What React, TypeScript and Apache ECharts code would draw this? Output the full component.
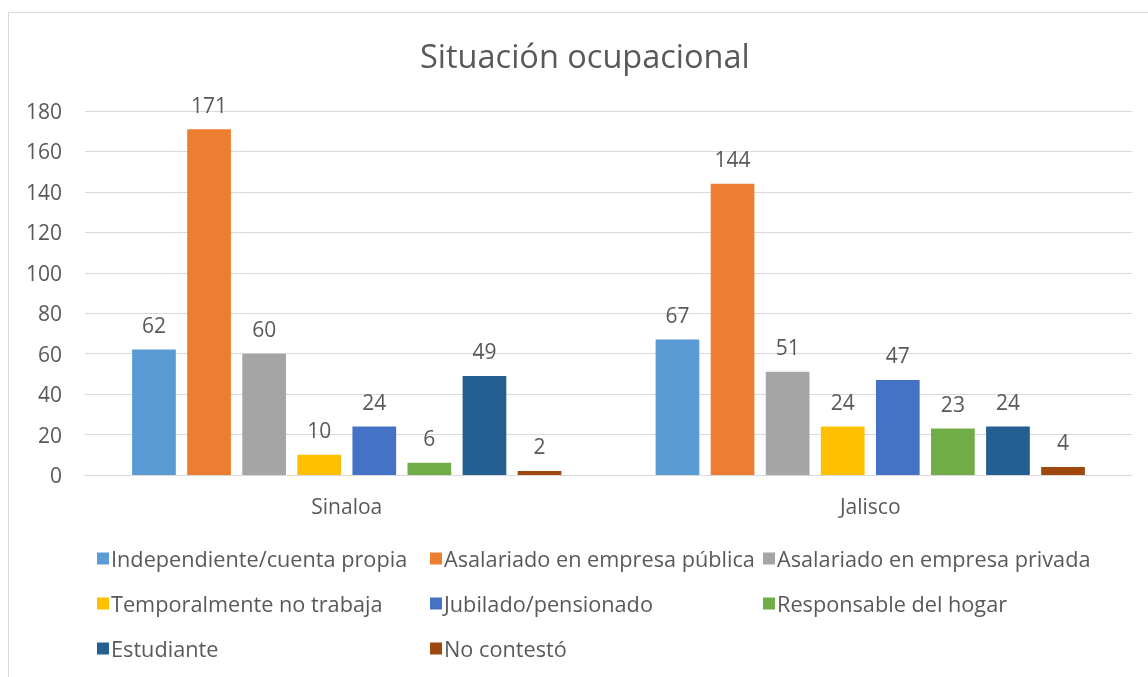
import React, { useEffect, useRef } from "react";
import * as echarts from "echarts";

const categories = ["Sinaloa", "Jalisco"];
const seriesNames = [
  "Independiente/cuenta propia",
  "Asalariado en empresa pública",
  "Asalariado en empresa privada",
  "Temporalmente no trabaja",
  "Jubilado/pensionado",
  "Responsable del hogar",
  "Estudiante",
  "No contestó",
];
const independiente = [62, 67];
const asalariadoPublica = [171, 144];
const asalariadoPrivada = [60, 51];
const temporalmente = [10, 24];
const jubilado = [24, 47];
const hogar = [6, 23];
const estudiante = [49, 24];
const noContesto = [2, 4];
const seriesValues = [independiente, asalariadoPublica, asalariadoPrivada, temporalmente, jubilado, hogar, estudiante, noContesto];
const colors = ["#5B9BD5", "#ED7D31", "#A5A5A5", "#FFC000", "#4472C4", "#70AD47", "#255E91", "#9E480E"];
const yTicks = { min: 0, max: 180, interval: 20 };

const FONT = "Open Sans";
const TXT = "#595959";

export default function App() {
  const ref = useRef<HTMLDivElement>(null);
  useEffect(() => {
    const chart = echarts.init(ref.current!, null, { renderer: "svg" });
    chart.setOption({
      animation: false,
      color: colors,
      textStyle: { fontFamily: FONT },
      title: {
        text: "Situación ocupacional",
        left: 415,
        top: 34,
        textStyle: { fontFamily: FONT, fontSize: 32.5, fontWeight: "normal", color: TXT },
      },
      graphic: [
        {
          type: "rect",
          shape: { x: 8.5, y: 12.5, width: 1200, height: 700 },
          style: { fill: "none", stroke: "#d9d9d9", lineWidth: 1 },
          silent: true,
        },
      ],
      grid: { left: 85, right: 16, top: 111, bottom: 202 },
      legend: {
        left: 97,
        top: 536,
        width: 1040,
        padding: 0,
        itemWidth: 12,
        itemHeight: 12,
        itemGap: 0,
        icon: "rect",
        data: seriesNames,
        textStyle: { fontFamily: FONT, fontSize: 21.7, color: TXT, width: 319, lineHeight: 45, padding: [0, 0, 0, -3] },
      },
      xAxis: {
        type: "category",
        data: categories,
        axisLine: { lineStyle: { color: "#d9d9d9", width: 1 } },
        axisTick: { show: false },
        axisLabel: { fontFamily: FONT, fontSize: 21, color: TXT, margin: 20 },
      },
      yAxis: {
        type: "value",
        min: yTicks.min,
        max: yTicks.max,
        interval: yTicks.interval,
        axisLine: { show: false },
        axisTick: { show: false },
        splitLine: { lineStyle: { color: "#d9d9d9", width: 1 } },
        axisLabel: { fontFamily: FONT, fontSize: 21, color: TXT, margin: 23 },
      },
      series: seriesNames.map((name, i) => ({
        name,
        type: "bar",
        data: seriesValues[i],
        barGap: "26%",
        barCategoryGap: "18%",
        label: {
          show: true,
          position: "top",
          distance: 14,
          fontFamily: FONT,
          fontSize: 21,
          color: TXT,
        },
      })),
    });
    return () => chart.dispose();
  }, []);
  return <div ref={ref} style={{ position: "fixed", left: 0, top: 0, width: 1148, height: 677 }} />;
}
